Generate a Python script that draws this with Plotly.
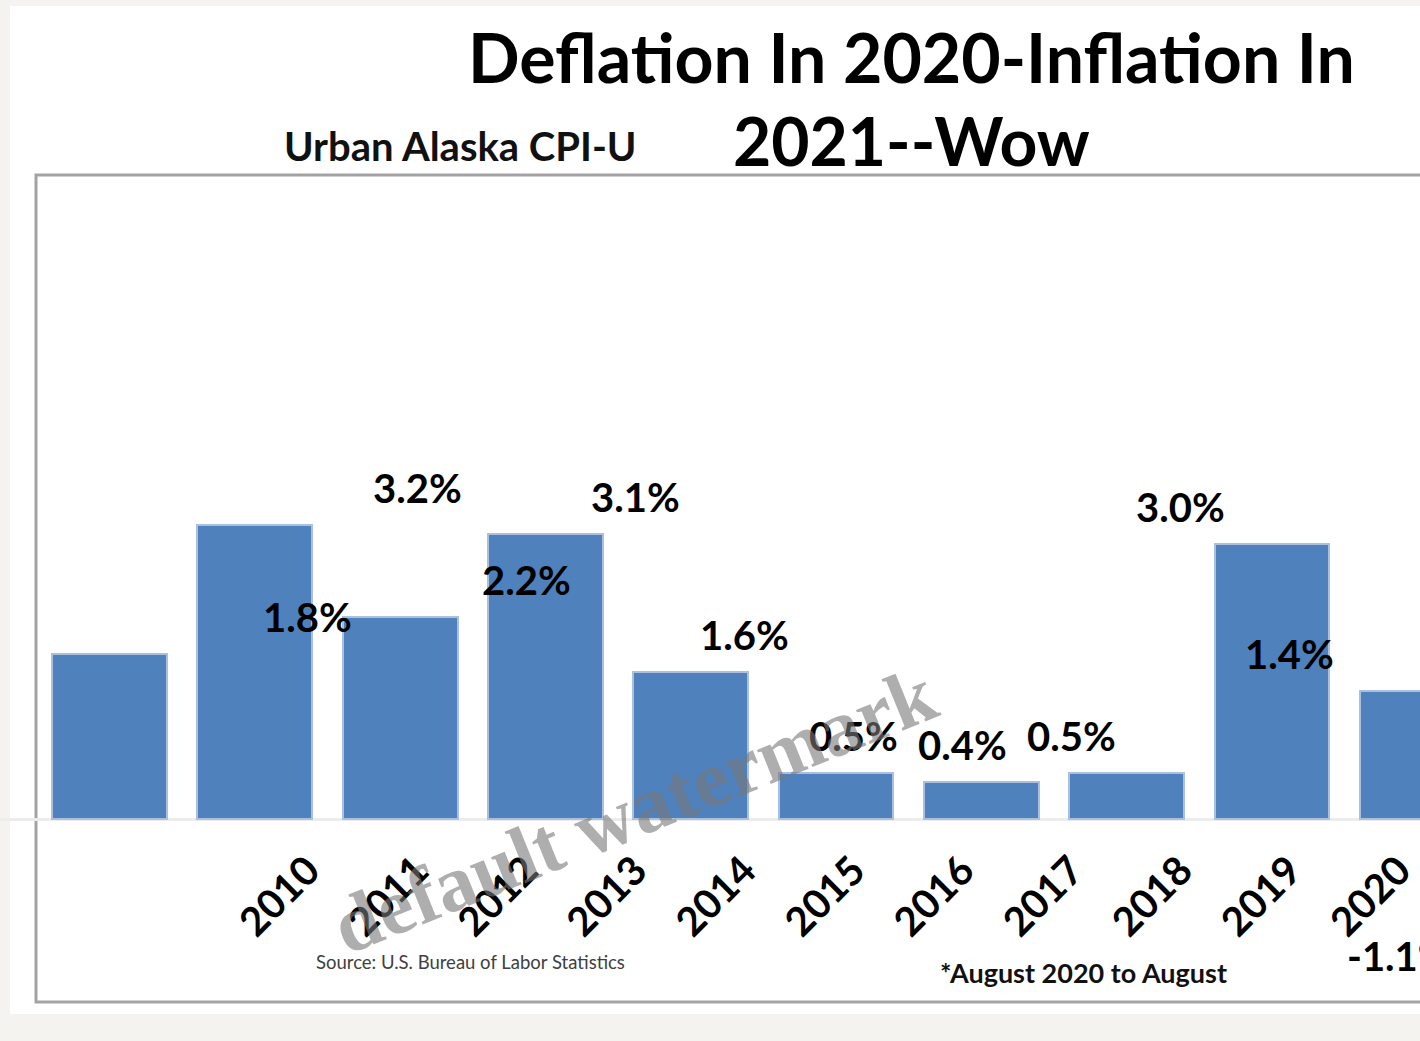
import plotly.graph_objects as go

# Urban Alaska CPI-U, annual change (%)
years = ["2010", "2011", "2012", "2013", "2014", "2015",
         "2016", "2017", "2018", "2019", "2020"]
cpi_change = [1.8, 3.2, 2.2, 3.1, 1.6, 0.5, 0.4, 0.5, 3.0, 1.4, -1.1]
value_labels = [f"{v:.1f}%" for v in cpi_change]

W, H = 1420, 1041
BAR_BLUE = "#4f81bd"
FONT = "Lato"


def px_x(x):
    return x / W


def px_y(y):
    return 1 - y / H


def note(x, y, text, size, color="#000000", weight="normal", family=FONT, angle=0):
    # free text placed in page pixels
    return dict(x=px_x(x), y=px_y(y), xref="paper", yref="paper",
                xanchor="center", yanchor="middle", text=text,
                showarrow=False, textangle=angle,
                font=dict(family=family, size=size, color=color, weight=weight))


fig = go.Figure()

# bars live on the wide axis
fig.add_trace(go.Bar(
    x=list(range(len(years))), y=cpi_change,
    width=0.79,
    marker=dict(color=BAR_BLUE, line=dict(color="#a9c1de", width=2)),
    hoverinfo="skip", xaxis="x", yaxis="y",
))

# year labels sit on a narrower axis (as in the original picture)
fig.add_trace(go.Scatter(
    x=list(range(len(years))), y=[None] * len(years),
    mode="markers", marker=dict(opacity=0),
    xaxis="x2", yaxis="y", hoverinfo="skip",
))

annotations = []
for i, (v, lab) in enumerate(zip(cpi_change, value_labels)):
    annotations.append(dict(
        x=i, y=v, xref="x2", yref="y", text=lab, showarrow=False,
        xanchor="center", yanchor="middle",
        yshift=37 if v >= 0 else -36,
        font=dict(family=FONT, size=40, color="#000000", weight="bold"),
    ))

# titles and notes
annotations += [
    note(911, 57, "Deflation In 2020-Inflation In", 68, weight="bold"),
    note(911, 141, "2021--Wow", 66, weight="bold"),
    note(460, 146, "Urban Alaska CPI-U", 40, color="#111111", weight="bold"),
    note(470, 962, "Source: U.S. Bureau of Labor Statistics", 18.5, color="#404040"),
    note(1083, 972, "*August 2020 to August", 27, color="#111111", weight="bold"),
    note(634, 810, "default watermark", 80, color="rgba(120,120,120,0.6)",
         weight="bold", family="Liberation Serif", angle=-22),
]

shapes = [
    # white card on the off-white page
    dict(type="rect", xref="paper", yref="paper", layer="below",
         x0=px_x(10), x1=px_x(1440), y0=px_y(1014), y1=px_y(6),
         fillcolor="#ffffff", line=dict(width=0)),
    # chart frame (cut at the right edge)
    dict(type="rect", xref="paper", yref="paper", layer="below",
         x0=px_x(36), x1=px_x(1460), y0=px_y(1002), y1=px_y(175),
         fillcolor="rgba(0,0,0,0)", line=dict(color="#a3a3a3", width=3)),
]

fig.update_layout(
    width=W, height=H,
    margin=dict(l=0, r=0, t=0, b=0),
    paper_bgcolor="#f4f3ef",
    plot_bgcolor="rgba(0,0,0,0)",
    showlegend=False,
    bargap=0,
    xaxis=dict(range=[-0.7536, 9.019], domain=[0, 1], visible=False,
               fixedrange=True),
    xaxis2=dict(range=[-2.823, 10.193], overlaying="x", anchor="free",
                position=px_y(838), side="bottom",
                tickmode="array", tickvals=list(range(len(years))),
                ticktext=years, tickangle=-45, ticks="",
                showgrid=False, showline=False, zeroline=False,
                automargin=False,
                tickfont=dict(family=FONT, size=40, color="#000000", weight="bold")),
    yaxis=dict(range=[-2.418, 8.922], domain=[0, 1], showgrid=False,
               showticklabels=False, ticks="", zeroline=True,
               zerolinecolor="#ececec", zerolinewidth=3, automargin=False),
    annotations=annotations,
    shapes=shapes,
)

fig.write_html("out.html", config={"displayModeBar": False},
               post_script="document.body.style.margin='0px';")
